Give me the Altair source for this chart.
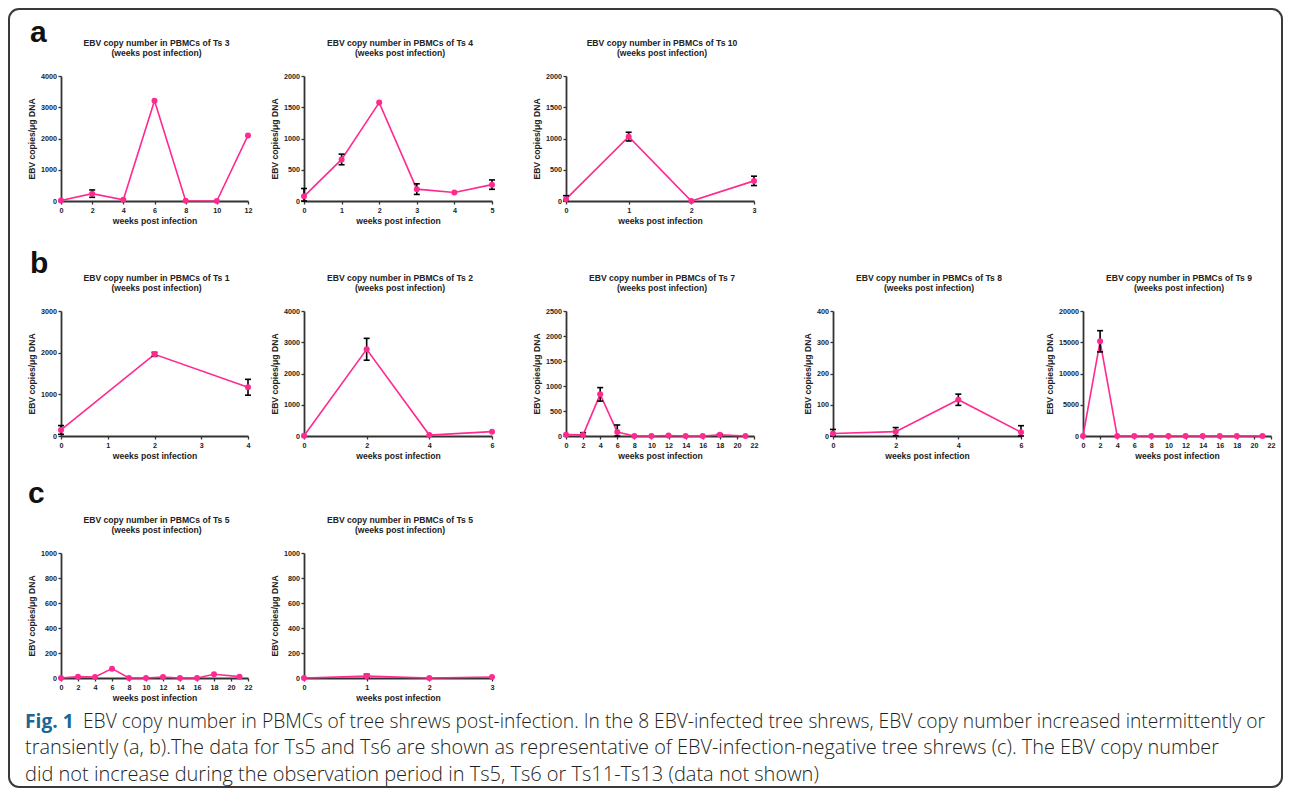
import altair as alt
import pandas as pd

PINK = "#ff2a8f"
AXIS_COLOR = "#333333"
FONT = "Liberation Sans"
CAP_FONT = "Open Sans"

X_TITLE = "weeks post infection"
Y_TITLE = "EBV copies/μg DNA"
SUBTITLE = "(weeks post infection)"

# ---------------- data ----------------
ts3_weeks = [0, 2, 4, 6, 8, 10, 12]
ts3_mean = [15, 236, 40, 3210, 10, 0, 2100]
ts3_sd = [0, 118, 0, 0, 0, 0, 0]
ts3_xticks = [0, 2, 4, 6, 8, 10, 12]
ts3_yticks = [0, 1000, 2000, 3000, 4000]

ts4_weeks = [0, 1, 2, 3, 4, 5]
ts4_mean = [75, 665, 1575, 190, 135, 262]
ts4_sd = [125, 85, 0, 85, 0, 75]
ts4_xticks = [0, 1, 2, 3, 4, 5]
ts4_yticks = [0, 500, 1000, 1500, 2000]

ts10_weeks = [0, 1, 2, 3]
ts10_mean = [30, 1030, 0, 322]
ts10_sd = [55, 70, 0, 75]
ts10_xticks = [0, 1, 2, 3]
ts10_yticks = [0, 500, 1000, 1500, 2000]

ts1_weeks = [0, 2, 4]
ts1_mean = [145, 1960, 1170]
ts1_sd = [105, 48, 190]
ts1_xticks = [0, 1, 2, 3, 4]
ts1_yticks = [0, 1000, 2000, 3000]

ts2_weeks = [0, 2, 4, 6]
ts2_mean = [10, 2775, 30, 140]
ts2_sd = [0, 350, 0, 0]
ts2_xticks = [0, 2, 4, 6]
ts2_yticks = [0, 1000, 2000, 3000, 4000]

ts7_weeks = [0, 2, 4, 6, 8, 10, 12, 14, 16, 18, 21]
ts7_mean = [27, 22, 833, 80, 0, 0, 10, 0, 0, 25, 0]
ts7_sd = [0, 45, 135, 140, 0, 0, 0, 0, 0, 12, 0]
ts7_xticks = [0, 2, 4, 6, 8, 10, 12, 14, 16, 18, 20, 22]
ts7_yticks = [0, 500, 1000, 1500, 2000, 2500]

ts8_weeks = [0, 2, 4, 6]
ts8_mean = [8, 14, 116, 12]
ts8_sd = [13, 13, 18, 21]
ts8_xticks = [0, 2, 4, 6]
ts8_yticks = [0, 100, 200, 300, 400]

ts9_weeks = [0, 2, 4, 6, 8, 10, 12, 14, 16, 18, 21]
ts9_mean = [0, 15150, 0, 0, 0, 0, 0, 0, 0, 0, 0]
ts9_sd = [0, 1700, 0, 0, 0, 0, 0, 0, 0, 0, 0]
ts9_xticks = [0, 2, 4, 6, 8, 10, 12, 14, 16, 18, 20, 22]
ts9_yticks = [0, 5000, 10000, 15000, 20000]

ts5_weeks = [0, 2, 4, 6, 8, 10, 12, 14, 16, 18, 21]
ts5_mean = [0, 11, 8, 75, 0, 0, 8, 0, 0, 30, 11]
ts5_sd = [0, 0, 0, 0, 0, 0, 0, 0, 0, 0, 0]
ts5_xticks = [0, 2, 4, 6, 8, 10, 12, 14, 16, 18, 20, 22]
ts5_yticks = [0, 200, 400, 600, 800, 1000]

ts5b_weeks = [0, 1, 2, 3]
ts5b_mean = [0, 15, 0, 8]
ts5b_sd = [0, 15, 0, 0]
ts5b_xticks = [0, 1, 2, 3]
ts5b_yticks = [0, 200, 400, 600, 800, 1000]

panel_labels = ["a", "b", "c"]
caption_fig = "Fig. 1"
caption_line1 = ("EBV copy number in PBMCs of tree shrews post-infection. In the 8 "
                 "EBV-infected tree shrews, EBV copy number increased intermittently or")
caption_line2 = ("transiently (a, b).The data for Ts5 and Ts6 are shown as representative "
                 "of EBV-infection-negative tree shrews (c). The EBV copy number")
caption_line3 = ("did not increase during the observation period in Ts5, Ts6 or Ts11-Ts13 "
                 "(data not shown)")

PLOT_H = 125
one = pd.DataFrame({"k": [0]})


def panel(ts, weeks, mean, sd, xticks, yticks, width):
    df = pd.DataFrame({"week": weeks, "mean": mean, "sd": sd})
    df["lo"] = (df["mean"] - df["sd"]).clip(lower=0)
    df["hi"] = df["mean"] + df["sd"]
    xs = alt.Scale(domain=[0, xticks[-1]], nice=False, zero=True)
    ys = alt.Scale(domain=[0, yticks[-1]], nice=False)
    xax = alt.Axis(values=xticks, title=X_TITLE, format="d")
    yax = alt.Axis(values=yticks, title=Y_TITLE, format="d")
    x = alt.X("week:Q", scale=xs, axis=xax)
    base = alt.Chart(df)
    err = base.transform_filter("datum.sd > 0")
    line = base.mark_line(color=PINK, strokeWidth=1.6).encode(
        x=x, y=alt.Y("mean:Q", scale=ys, axis=yax))
    bar = err.mark_rule(color="black", strokeWidth=1.6).encode(
        x=x, y=alt.Y("lo:Q", scale=ys, axis=yax), y2="hi:Q")
    cap_hi = err.mark_rule(color="black", strokeWidth=1.6, xOffset=-3, x2Offset=3).encode(
        x=x, x2="week:Q", y=alt.Y("hi:Q", scale=ys, axis=yax))
    cap_lo = err.mark_rule(color="black", strokeWidth=1.6, xOffset=-3, x2Offset=3).encode(
        x=x, x2="week:Q", y=alt.Y("lo:Q", scale=ys, axis=yax))
    pts = base.mark_circle(color=PINK, size=36, opacity=1).encode(
        x=x, y=alt.Y("mean:Q", scale=ys, axis=yax))
    return alt.layer(line, bar, cap_hi, cap_lo, pts).properties(
        width=width, height=PLOT_H,
        title=alt.TitleParams(
            text=[f"EBV copy number in PBMCs of Ts {ts}", SUBTITLE],
            font=FONT, fontSize=8.6, fontWeight="bold", color="#222222",
            lineHeight=10.5, offset=14, anchor="middle", frame="group", dx=2),
    )


def sp(w, h):
    return alt.Chart(one).mark_point(opacity=0).encode(
        x=alt.value(0), y=alt.value(0)).properties(width=w, height=h)


def txt(text, x, y, size, weight="normal", font=FONT, color="#111111"):
    return alt.Chart(one).mark_text(
        text=text, font=font, fontSize=size, fontWeight=weight, color=color,
        align="left", baseline="alphabetic").encode(x=alt.value(x), y=alt.value(y))


# overlay: frame, panel letters and caption (origin = top-left of the grid)
border = alt.Chart(one).mark_rect(
    fillOpacity=0, stroke="#3a3a3a", strokeWidth=2, cornerRadius=10).encode(
    x=alt.value(-52), x2=alt.value(1221), y=alt.value(-66), y2=alt.value(712))
overlay = alt.layer(
    border,
    txt(panel_labels[0], -31, -33, 30, "bold"),
    txt(panel_labels[1], -31, 198, 30, "bold"),
    txt(panel_labels[2], -33, 428, 30, "bold"),
    txt(caption_fig, -36, 652.5, 19.2, "bold", CAP_FONT, "#1d6593"),
    txt(caption_line1, 22, 652.5, 19.2, 300, CAP_FONT, "#231f20"),
    txt(caption_line2, -36, 679, 19.9, 300, CAP_FONT, "#231f20"),
    txt(caption_line3, -36, 706, 20.0, 300, CAP_FONT, "#231f20"),
).properties(width=1, height=1)

p3 = panel(3, ts3_weeks, ts3_mean, ts3_sd, ts3_xticks, ts3_yticks, 187)
p4 = panel(4, ts4_weeks, ts4_mean, ts4_sd, ts4_xticks, ts4_yticks, 188)
p10 = panel(10, ts10_weeks, ts10_mean, ts10_sd, ts10_xticks, ts10_yticks, 188)
p1 = panel(1, ts1_weeks, ts1_mean, ts1_sd, ts1_xticks, ts1_yticks, 187)
p2 = panel(2, ts2_weeks, ts2_mean, ts2_sd, ts2_xticks, ts2_yticks, 188)
p7 = panel(7, ts7_weeks, ts7_mean, ts7_sd, ts7_xticks, ts7_yticks, 188)
p8 = panel(8, ts8_weeks, ts8_mean, ts8_sd, ts8_xticks, ts8_yticks, 188)
p9 = panel(9, ts9_weeks, ts9_mean, ts9_sd, ts9_xticks, ts9_yticks, 188)
p5 = panel(5, ts5_weeks, ts5_mean, ts5_sd, ts5_xticks, ts5_yticks, 187)
p5b = panel(5, ts5b_weeks, ts5b_mean, ts5b_sd, ts5b_xticks, ts5b_yticks, 188)

# 9-column grid; column widths come from row b (panels and gaps)
items = []
items += [overlay] + [sp(1, 1) for _ in range(8)]
items += [p3, sp(1, 1), p4, sp(1, 1), p10, sp(1, 1), sp(1, 1), sp(1, 1), sp(1, 1)]
items += [sp(1, 110)] + [sp(1, 1) for _ in range(8)]
items += [p1, sp(56, 1), p2, sp(74, 1), p7, sp(79, 1), p8, sp(62, 1), p9]
items += [sp(1, 117)] + [sp(1, 1) for _ in range(8)]
items += [p5, sp(1, 1), p5b]

chart = alt.concat(
    *items, columns=9, spacing=0, bounds="flush", align="each",
).properties(
    padding=0, background="white"
).configure_view(
    stroke=None
).configure_axis(
    grid=False,
    domainColor=AXIS_COLOR, domainWidth=1.8,
    tickColor=AXIS_COLOR, tickWidth=1.3, tickSize=3,
    labelFont=FONT, labelFontSize=7.2, labelFontWeight="bold", labelColor="#222222",
    titleFont=FONT, titleFontSize=8.6, titleFontWeight="bold", titleColor="#222222",
    labelFlush=False, labelOverlap=False,
).configure_axisX(
    labelPadding=2, titlePadding=3
).configure_axisY(
    labelPadding=1.5, titlePadding=4
)

chart.save("out.html", embed_options={"renderer": "svg", "actions": False})
